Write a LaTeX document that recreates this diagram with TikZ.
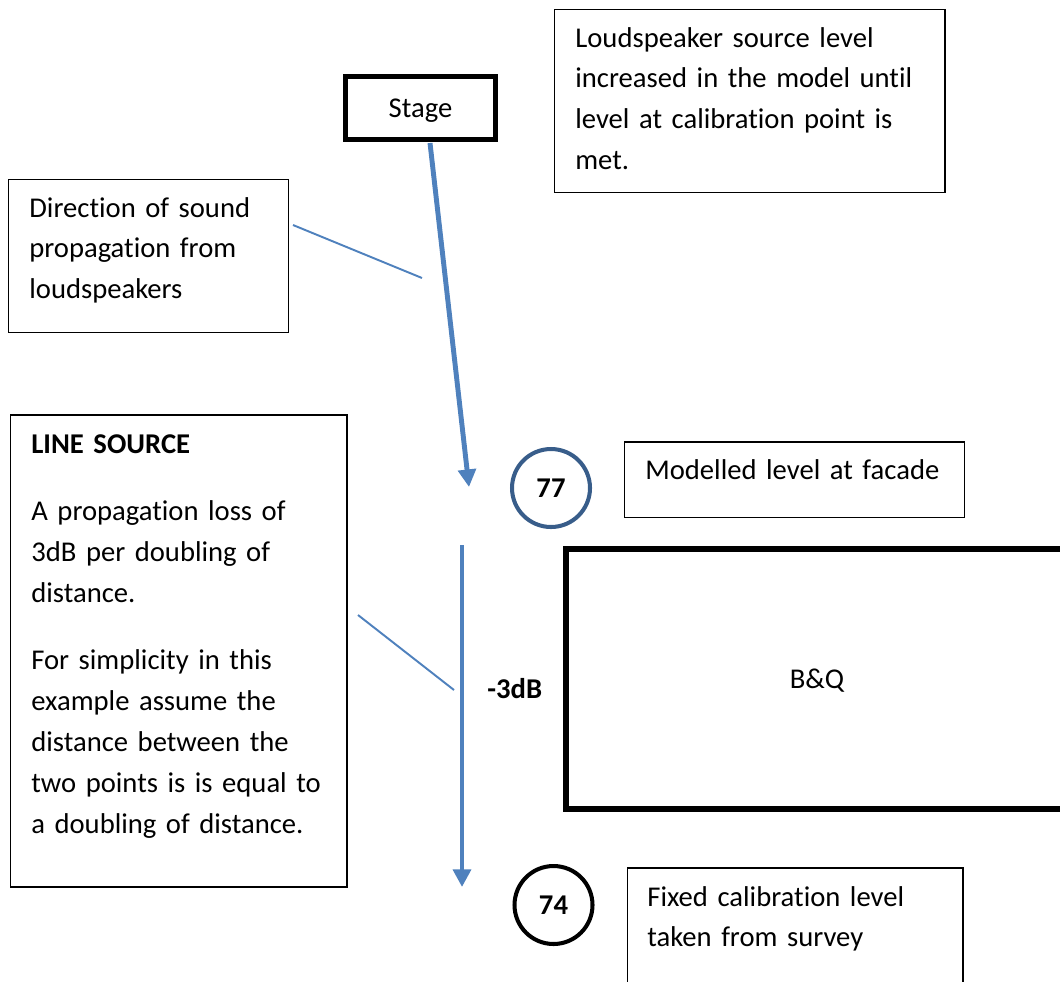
\documentclass[tikz,border=0pt]{standalone}
\usepackage{fontspec}
\setmainfont{Carlito}[Ligatures=NoCommon]
\usepackage{xcolor}
\usepackage{tikz}
\usetikzlibrary{arrows.meta, positioning}
\definecolor{arrowblue}{RGB}{79, 129, 189}
\definecolor{ringblue}{RGB}{56, 93, 138}

\begin{document}
\begin{tikzpicture}[
    x=0.02cm, y=-0.02cm,
    frame/.style={draw=black, line width=0.85pt, rectangle, inner sep=0, anchor=north west},
    heavy/.style={draw=black, line width=3pt, rectangle, inner sep=0, text depth=0pt},
    txt/.style={font=\fontsize{16.3}{23.3}\selectfont, align=left, text width=7cm, inner sep=0, anchor=base west},
    level/.style={circle, line width=2.3pt, minimum size=1.56cm, inner sep=0, font=\fontsize{16.3}{23.3}\selectfont\bfseries},
    flow/.style={-{Triangle[width=10pt, length=10pt]}, line width=2.8pt, arrowblue},
    pointer/.style={line width=1.1pt, arrowblue}
]
\clip (0,0) rectangle (1060,981);

% Stage and building
\node[heavy, minimum width=3cm, minimum height=1.26cm, font=\fontsize{16.3}{23.3}\selectfont] (stage) at (420.5,108) {Stage};
\node[heavy, minimum width=10.04cm, minimum height=5.2cm, font=\fontsize{16.3}{23.3}\selectfont] (bq) at (817,679) {B\&Q};

% Text boxes
\node[frame, minimum width=7.82cm, minimum height=3.67cm] (srcbox) at (553.5,8.5) {};
\node[txt] (srctext) at (575,47) {Loudspeaker source level\\ increased in the model until\\ level at calibration point is\\ met.};

\node[frame, minimum width=5.61cm, minimum height=3.07cm] (dirbox) at (7.5,178.5) {};
\node[txt] (dirtext) at (29,217) {Direction of sound\\ propagation from\\ loudspeakers};

\node[frame, minimum width=6.74cm, minimum height=9.45cm] (linebox) at (9.5,414) {};
\node[txt] (linetext) at (31,453) {\textbf{LINE SOURCE}\\[15pt]
    A propagation loss of\\ 3dB per doubling of\\ distance.\\[15pt]
    For simplicity in this\\ example assume the\\ distance between the\\ two points is is equal to\\ a doubling of distance.};

\node[frame, minimum width=6.81cm, minimum height=1.52cm] (modbox) at (623.5,441) {};
\node[txt] (modtext) at (645,479) {Modelled level at facade};

\node[frame, minimum width=6.72cm, minimum height=2.86cm] (fixbox) at (626.5,867) {};
\node[txt] (fixtext) at (647,906) {Fixed calibration level\\ taken from survey};

% Levels
\node[level, draw=ringblue] (facade) at (551,488) {77};
\node[level, draw=black] (calib) at (553.5,905) {74};
\node[txt, font=\fontsize{16.3}{23.3}\selectfont\bfseries] (loss) at (487,698) {-3dB};

% Propagation arrows
\coordinate (topstart) at (430,143);
\coordinate (topend) at (469,487);
\coordinate (lowstart) at (462,545);
\coordinate (lowend) at (462,887);
\draw[flow] (topstart) -- (topend);
\draw[flow] (lowstart) -- (lowend);

% Pointer lines
\coordinate (dirtip) at (293,225);
\coordinate (dirarrow) at (422,278);
\coordinate (linetip) at (358,615);
\coordinate (linearrow) at (454,690);
\draw[pointer] (dirtip) -- (dirarrow);
\draw[pointer] (linetip) -- (linearrow);
\end{tikzpicture}
\end{document}
